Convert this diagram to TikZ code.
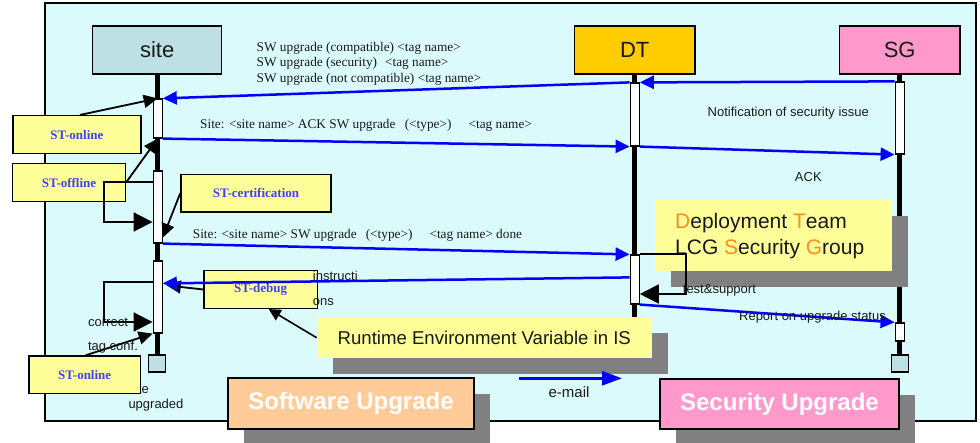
\documentclass[tikz,border=0pt]{standalone}
\usepackage{fontspec}
\setmainfont{Liberation Sans}
\newfontfamily\serifface{Liberation Serif}
\usetikzlibrary{arrows.meta,shadows}
\definecolor{panel}{RGB}{218,250,252}
\definecolor{sitefill}{RGB}{188,224,227}
\definecolor{dtfill}{RGB}{255,204,0}
\definecolor{sgfill}{RGB}{255,153,204}
\definecolor{stfill}{RGB}{255,255,153}
\definecolor{sttext}{RGB}{64,64,255}
\definecolor{swfill}{RGB}{255,204,153}
\definecolor{shadowgray}{RGB}{128,128,128}
\definecolor{orangeletter}{RGB}{255,138,31}
\definecolor{msgblue}{RGB}{0,0,255}
\definecolor{txt}{RGB}{25,25,25}
\begin{document}
\begin{tikzpicture}[x=1pt,y=-1pt,
  hdr/.style={draw=black, line width=1.5pt, inner sep=0pt, minimum height=48pt, minimum width=120.7pt, font=\fontsize{22}{26}\selectfont, text=txt},
  bar/.style={draw=black, fill=white, line width=1.2pt, inner sep=0pt, minimum width=9pt},
  endsq/.style={draw=black, fill=sitefill, line width=1.2pt, inner sep=0pt, minimum width=17pt, minimum height=17pt},
  lifeline/.style={line width=4.8pt, black},
  stbox/.style={draw=black, fill=stfill, line width=1.5pt, inner sep=0pt, minimum height=37.6pt, font=\serifface\bfseries\fontsize{13}{15}\selectfont, text=sttext},
  msg/.style={draw=msgblue, line width=2.5pt, -{Triangle[length=14pt,width=13pt]}},
  note/.style={draw=black, line width=1.8pt, -{Triangle[length=14pt,width=13pt]}},
  loopar/.style={draw=black, line width=1.8pt, -{Triangle[length=19pt,width=19pt]}},
  serlabel/.style={inner sep=0pt, anchor=west, font=\serifface\fontsize{13.3}{15.5}\selectfont, align=left, text=txt},
  sanslabel/.style={inner sep=0pt, font=\fontsize{13}{15}\selectfont, text=txt},
  bigshadow/.style={drop shadow={shadow xshift=16pt, shadow yshift=-16pt, fill=shadowgray, opacity=1}},
  bigtitle/.style={draw=black, line width=2pt, inner sep=0pt, minimum height=50.5pt, text=white, font=\bfseries\fontsize{24}{28}\selectfont, bigshadow},
]
\useasboundingbox (0,0) rectangle (980,443);
\fill[white] (0,0) rectangle (980,443);
\draw[fill=panel, line width=1.5pt] (45,3) rectangle (976,421);

% headers and lifeline ends
\node[hdr, fill=sitefill, minimum width=129pt] (siteBox) at (157.2,50) {site};
\node[hdr, fill=dtfill] (dtBox) at (634.7,50) {DT};
\node[hdr, fill=sgfill] (sgBox) at (899.7,50) {SG};
\node[endsq] (siteSq) at (157.2,363.5) {};
\node[endsq] (sgSq) at (899.7,363.5) {};
\coordinate (dtEnd) at (634.7,345);
\draw[lifeline] (siteBox.south) -- (siteSq.north);
\draw[lifeline] (dtBox.south) -- (dtEnd);
\draw[lifeline] (sgBox.south) -- (sgSq.north);

\node[sanslabel, align=left, anchor=west] (siteUpg) at (128.3,397.5) {site\\upgraded};

% ST boxes
\node[stbox, minimum width=128.3pt, minimum height=38pt] (stOn1) at (76.9,134.7) {ST-online};
\node[stbox, minimum width=112.6pt] (stOff) at (69,182.5) {ST-offline};
\node[stbox, minimum width=150pt] (stCert) at (256,193.2) {ST-certification};
\node[stbox, minimum width=113.3pt] (stDbg) at (260.7,289.5) {ST-debug};
\node[stbox, minimum width=111.3pt, minimum height=37.3pt] (stOn2) at (84.7,374.7) {ST-online};

% activation bars
\node[bar, minimum height=39pt] (sb1) at (157.7,118.5) {};
\node[bar, minimum height=72pt] (sb2) at (157.7,207) {};
\node[bar, minimum height=72pt] (sb3) at (157.7,297) {};
\node[bar, minimum height=63pt] (db1) at (634.7,114.5) {};
\node[bar, minimum height=49pt] (db2) at (634.7,279.5) {};
\node[bar, minimum height=72pt] (gb1) at (899.7,118) {};
\node[bar, minimum height=18pt] (gb2) at (899.7,332) {};

% notes from ST boxes
\draw[note] ([xshift=3pt]stOn1.north) -- (sb1.north);
\draw[note] (stOff.east) -- (sb1.south);
\draw[note] (stCert.west) -- ([yshift=6pt]sb2.south east);
\draw[note] (stDbg.west) -- ([xshift=4pt,yshift=-25pt]sb3.north east);
\draw[note] ([xshift=1pt]stOn2.north) -- (sb3.south west);

% self loops at site
\coordinate (loopA) at (104,222);
\coordinate (loopB) at (104,322);
\draw[loopar] ([yshift=-12pt]sb2.north west) -| (loopA) -- (loopA -| sb2.west);
\draw[loopar] ([yshift=-22pt]sb3.north west) -| (loopB) -- (loopB -| sb3.west);
\node[sanslabel] (lblCorrect) at (108,322.7) {correct};
\node[sanslabel] (lblTag) at (113,346.7) {tag conf.};

% messages
\draw[msg] (gb1.north west) -- (db1.north east);
\draw[msg] (db1.north west) -- (sb1.north east);
\draw[msg] (sb1.south east) -- (db1.south west);
\draw[msg] (db1.south east) -- (gb1.south west);
\draw[msg] (sb2.south east) -- (db2.north west);
\draw[msg] ([yshift=-23pt]db2.north west) -- ([yshift=-23pt]sb3.north east);
\draw[msg] (db2.south east) -- (gb2.north west);

% message labels
\node[serlabel] (lblSW) at (256.5,63.5) {SW upgrade (compatible) <tag name>\\SW upgrade (security)\hspace{8pt}<tag name>\\SW upgrade (not compatible) <tag name>};
\node[serlabel] (lblAck) at (200,125.5) {Site: <site name> ACK SW upgrade\hspace{6pt} (<type>)\hspace{17pt}<tag name>};
\node[serlabel] (lblDone) at (192.7,235.5) {Site: <site name> SW upgrade\hspace{9pt}(<type>)\hspace{17pt}<tag name> done};
\node[sanslabel] (lblNotif) at (788.3,112.7) {Notification of security issue};
\node[sanslabel] (lblACK2) at (808.3,176.7) {ACK};
\node[sanslabel, anchor=west] (lblInstr1) at (312.7,275.7) {instructi};
\node[sanslabel, anchor=west] (lblInstr2) at (312.7,301.7) {ons};
\node[sanslabel] (lblReport) at (812.5,316.7) {Report on upgrade status};

% big text boxes
\node[fill=stfill, inner sep=0pt, minimum width=237pt, minimum height=70.7pt, bigshadow] (depl) at (773.5,235.3) {};
\node[anchor=west, inner sep=0pt, align=left, font=\fontsize{21}{26}\selectfont, text=txt] (deplText) at (675,236) {\textcolor{orangeletter}{D}eployment \textcolor{orangeletter}{T}eam\\LCG \textcolor{orangeletter}{S}ecurity \textcolor{orangeletter}{G}roup};
\node[fill=stfill, inner sep=0pt, minimum width=334.7pt, minimum height=41pt, font=\fontsize{18.6}{22}\selectfont, text=txt, bigshadow] (runtime) at (484.3,337.8) {Runtime Environment Variable in IS};
\node[bigtitle, fill=swfill, minimum width=246.6pt] (swUp) at (351,403.7) {Software Upgrade};
\node[bigtitle, fill=sgfill, minimum width=239.6pt] (secUp) at (779.5,404.2) {Security Upgrade};

% DT self loop
\coordinate (loopC) at (686,294);
\draw[loopar] (db2.north east) -| (loopC) -- (loopC -| db2.east);
\node[sanslabel, anchor=west] (lblTest) at (682.7,290.7) {test\&support};

% runtime -> debug
\draw[note, line width=1.6pt, -{Triangle[length=12pt,width=12pt]}] (runtime.west) -- ([xshift=8pt]stDbg.south);

% e-mail
\coordinate (mailA) at (519,378.3);
\coordinate (mailB) at (622,378.3);
\draw[msg, -{Triangle[length=20pt,width=14pt]}] (mailA) -- (mailB);
\node[sanslabel, font=\fontsize{15}{18}\selectfont] (lblMail) at (569,391.7) {e-mail};
\end{tikzpicture}
\end{document}
